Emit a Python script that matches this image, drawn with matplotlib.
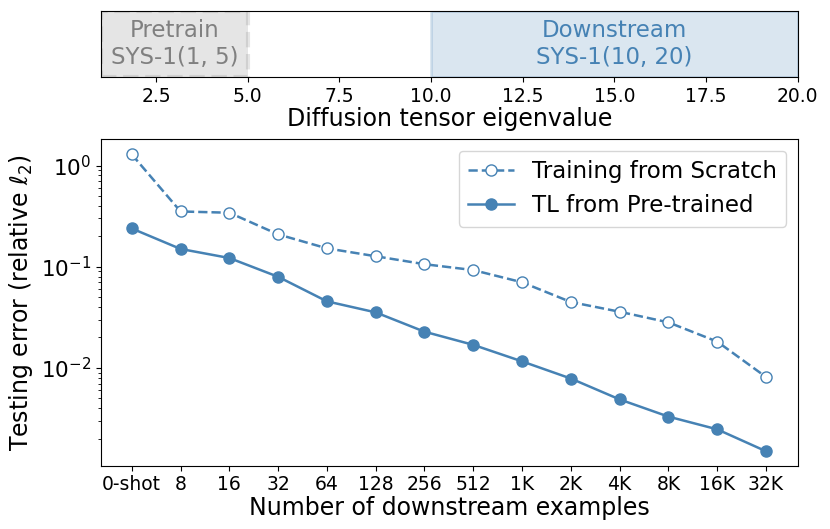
import matplotlib
matplotlib.use("Agg")
import matplotlib.pyplot as plt

# Datos
etiquetas = ["0-shot", "8", "16", "32", "64", "128", "256", "512",
             "1K", "2K", "4K", "8K", "16K", "32K"]
scratch = [1.29, 0.352, 0.342, 0.209, 0.152, 0.127, 0.106, 0.0927,
           0.0702, 0.0448, 0.0359, 0.0282, 0.0182, 0.00813]
tl_pre = [0.239, 0.150, 0.122, 0.0796, 0.0455, 0.0354, 0.0228, 0.0169,
          0.0116, 0.00785, 0.00488, 0.00330, 0.00247, 0.00150]

pretrain_rango = (1, 5)
downstream_rango = (10, 20)

color = "steelblue"

fig = plt.figure(figsize=(8.3, 5.29), dpi=100)

# ===============================
# Panel superior: rangos de eigenvalores
# ===============================
ax_top = fig.add_axes([0.1217, 0.854, 0.8394, 0.125])
ax_top.axvspan(*pretrain_rango, color="gray", alpha=0.2, linestyle="--", linewidth=3)
ax_top.axvspan(*downstream_rango, facecolor=color, edgecolor=color, alpha=0.2, linewidth=2)
ax_top.text(sum(pretrain_rango) / 2, 0.5, "Pretrain\nSYS-1(1, 5)", ha="center", va="center",
            fontsize=16.5, color="gray")
ax_top.text(sum(downstream_rango) / 2, 0.5, "Downstream\nSYS-1(10, 20)", ha="center", va="center",
            fontsize=16.5, color=color)
ax_top.set_xlim(1, 20)
ax_top.set_ylim(0, 1)
ax_top.set_yticks([])
ax_top.tick_params(axis="x", labelsize=13.5)
ax_top.set_xlabel("Diffusion tensor eigenvalue", fontsize=17, labelpad=1)

# ===============================
# Panel inferior: error vs numero de ejemplos
# ===============================
ax = fig.add_axes([0.1217, 0.1197, 0.8394, 0.617])
x = range(len(etiquetas))
ax.plot(x, scratch, "--o", color=color, markerfacecolor="white", markersize=8,
        linewidth=1.8, label="Training from Scratch")
ax.plot(x, tl_pre, "-o", color=color, markersize=8, linewidth=1.8,
        label="TL from Pre-trained")
ax.set_yscale("log")
ax.set_ylim(0.00108, 1.82)
ax.set_xlim(-0.63, 13.65)
ax.set_xticks(list(x))
ax.set_xticklabels(etiquetas)
ax.tick_params(axis="x", labelsize=13.5)
ax.tick_params(axis="y", labelsize=15.5)
ax.set_xlabel("Number of downstream examples", fontsize=17, labelpad=1)
ax.set_ylabel(r"Testing error (relative $\ell_2$)", fontsize=17)
ax.legend(loc="upper right", fontsize=16.5)

plt.savefig("out.png", dpi=100)
